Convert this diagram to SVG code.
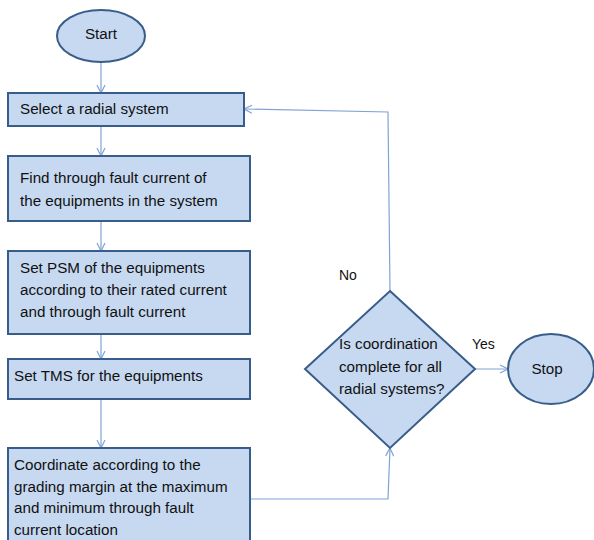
<svg xmlns="http://www.w3.org/2000/svg" width="594" height="540" viewBox="0 0 594 540">
<style>
.sh{fill:#C6D9F1;stroke:#385D8A;stroke-width:2}
.t{font-family:"Liberation Sans",Arial,sans-serif;font-size:15.2px;fill:#111}
.l{font-family:"Liberation Sans",Arial,sans-serif;font-size:14px;fill:#111}
.c{fill:none;stroke:#7FA3D6;stroke-width:1.2}
</style>
<defs>
<marker id="a" markerWidth="10" markerHeight="10" refX="9" refY="5" orient="auto" markerUnits="userSpaceOnUse">
<path d="M1,1 L9,5 L1,9" fill="none" stroke="#7FA3D6" stroke-width="1.2"/>
</marker>
</defs>
<g id="connectors">
<line class="c" x1="101" y1="62" x2="101" y2="93" marker-end="url(#a)"/>
<line class="c" x1="101" y1="126" x2="101" y2="156" marker-end="url(#a)"/>
<line class="c" x1="101" y1="221" x2="101" y2="251" marker-end="url(#a)"/>
<line class="c" x1="101" y1="334" x2="101" y2="359" marker-end="url(#a)"/>
<line class="c" x1="101" y1="399" x2="101" y2="448" marker-end="url(#a)"/>
<polyline class="c" points="250,499 388,499 390,448" marker-end="url(#a)"/>
<polyline class="c" points="390,291 388,112 244,109" marker-end="url(#a)"/>
<line class="c" x1="475" y1="369" x2="508" y2="369" marker-end="url(#a)"/>
</g>
<g id="start">
<ellipse class="sh" cx="101" cy="36" rx="44" ry="26"/>
<text class="t" x="101" y="39" text-anchor="middle">Start</text>
</g>
<g id="select">
<rect class="sh" x="8" y="93" width="236" height="33"/>
<text class="t" x="20" y="114">Select a radial system</text>
</g>
<g id="find">
<rect class="sh" x="8" y="156" width="242" height="65"/>
<text class="t" x="20" y="183">Find through fault current of</text>
<text class="t" x="20" y="206">the equipments in the system</text>
</g>
<g id="psm">
<rect class="sh" x="8" y="251" width="242" height="83"/>
<text class="t" x="20" y="273">Set PSM of the equipments</text>
<text class="t" x="20" y="295">according to their rated current</text>
<text class="t" x="20" y="317">and through fault current</text>
</g>
<g id="tms">
<rect class="sh" x="8" y="359" width="242" height="40"/>
<text class="t" x="14" y="381">Set TMS for the equipments</text>
</g>
<g id="coordinate">
<rect class="sh" x="8" y="448" width="242" height="102"/>
<text class="t" x="14" y="470">Coordinate according to the</text>
<text class="t" x="14" y="492">grading margin at the maximum</text>
<text class="t" x="14" y="513">and minimum through fault</text>
<text class="t" x="14" y="535">current location</text>
</g>
<g id="decision">
<polygon class="sh" points="390,291 475,369 390,448 305,369"/>
<text class="t" x="339" y="349">Is coordination</text>
<text class="t" x="339" y="372">complete for all</text>
<text class="t" x="339" y="394">radial systems?</text>
</g>
<g id="stop">
<ellipse class="sh" cx="551" cy="369" rx="43" ry="35"/>
<text class="t" x="547" y="374" text-anchor="middle">Stop</text>
</g>
<text class="l" x="339" y="280">No</text>
<text class="l" x="472" y="349">Yes</text>
</svg>
